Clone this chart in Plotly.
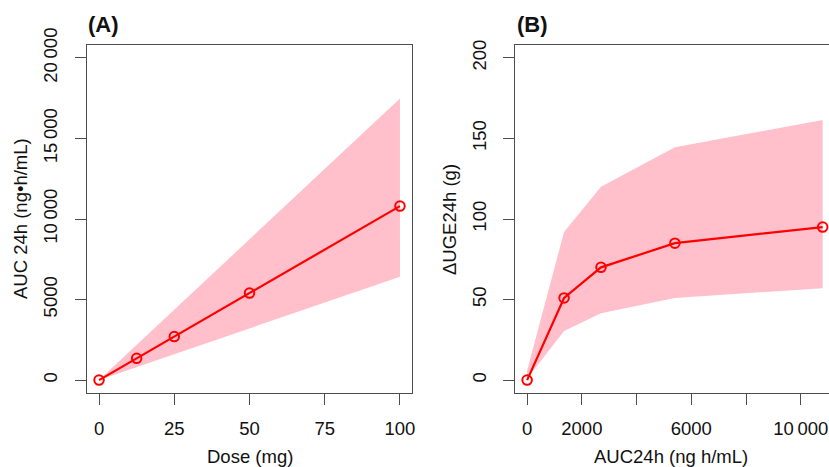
import plotly.graph_objects as go

W, H = 829, 467

# ---- data ----
dose_mg = [0, 12.5, 25, 50, 100]
auc_median = [0, 1350, 2700, 5400, 10800]
auc_upper = [0, 2180, 4370, 8740, 17480]
auc_lower = [0, 800, 1600, 3210, 6420]

auc_x = [0, 1350, 2700, 5400, 10800]
uge_median = [0, 51, 70, 85, 95]
uge_upper = [6, 92, 120, 144.5, 161.5]
uge_lower = [1, 30.5, 41.5, 51, 57]

yA_tickvals = [0, 5000, 10000, 15000, 20000]
yA_ticktext = ["0", "5000", "10\u2009000", "15\u2009000", "20\u2009000"]
xA_tickvals = [0, 25, 50, 75, 100]
xA_ticktext = ["0", "25", "50", "75", "100"]
yB_tickvals = [0, 50, 100, 150, 200]
yB_ticktext = ["0", "50", "100", "150", "200"]
xB_tickvals = [0, 2000, 4000, 6000, 8000, 10000]
xB_ticktext = ["0", "2000", "", "6000", "", "10\u2009000"]

RED = "#FF0000"
PINK = "#FFC0CB"
BOX = "#4d4d4d"
FONT = "Liberation Sans, Arial, sans-serif"
FS = 18.5


def px(x):
    return x / W


def py(y):
    return (H - y) / H


fig = go.Figure()

# Panel A band
fig.add_trace(go.Scatter(
    x=dose_mg + dose_mg[::-1], y=auc_upper + auc_lower[::-1],
    fill="toself", fillcolor=PINK, line=dict(width=0), mode="lines",
    hoverinfo="skip", showlegend=False, xaxis="x", yaxis="y"))
fig.add_trace(go.Scatter(
    x=dose_mg, y=auc_median, mode="lines+markers",
    line=dict(color=RED, width=2.2),
    marker=dict(symbol="circle-open", size=9.5, color=RED, line=dict(width=2, color=RED)),
    showlegend=False, xaxis="x", yaxis="y"))

# Panel B band
fig.add_trace(go.Scatter(
    x=auc_x + auc_x[::-1], y=uge_upper + uge_lower[::-1],
    fill="toself", fillcolor=PINK, line=dict(width=0), mode="lines",
    hoverinfo="skip", showlegend=False, xaxis="x2", yaxis="y2"))
fig.add_trace(go.Scatter(
    x=auc_x, y=uge_median, mode="lines+markers",
    line=dict(color=RED, width=2.2),
    marker=dict(symbol="circle-open", size=9.5, color=RED, line=dict(width=2, color=RED)),
    showlegend=False, xaxis="x2", yaxis="y2"))

axis_common = dict(
    showgrid=False, zeroline=False, showline=True, linecolor=BOX, linewidth=1.3,
    ticks="outside", ticklen=11, tickwidth=1.3, tickcolor=BOX,
    tickfont=dict(family=FONT, size=FS, color="#111"),
    tickmode="array", automargin=False,
)

yd = [py(393), py(45)]
fig.update_layout(
    width=W, height=H,
    margin=dict(l=0, r=0, t=0, b=0, pad=0, autoexpand=False),
    paper_bgcolor="white", plot_bgcolor="white",
    font=dict(family=FONT, size=FS, color="#111"),
    showlegend=False,
    xaxis=dict(domain=[px(87), px(412)], range=[-4, 104], anchor="y",
               tickvals=xA_tickvals, ticktext=xA_ticktext, mirror=True,
               ticklabelstandoff=8, **axis_common),
    yaxis=dict(domain=yd, range=[-800, 20800], anchor="x",
               tickvals=yA_tickvals, ticktext=yA_ticktext, mirror=True,
               tickangle=-90, ticklabelstandoff=10, **axis_common),
    xaxis2=dict(domain=[px(515.3), 1.0], range=[-432, 11031], anchor="y2",
                tickvals=xB_tickvals, ticktext=xB_ticktext, mirror=True,
                ticklabelstandoff=8, **axis_common),
    yaxis2=dict(domain=yd, range=[-8, 208], anchor="x2",
                tickvals=yB_tickvals, ticktext=yB_ticktext, mirror=False,
                tickangle=-90, ticklabelstandoff=10, **axis_common),
)

ann = [
    dict(text="<b>(A)</b>", x=px(86), y=py(25), xanchor="left", yanchor="middle",
         font=dict(size=22, family=FONT, color="#111")),
    dict(text="<b>(B)</b>", x=px(514.5), y=py(25), xanchor="left", yanchor="middle",
         font=dict(size=22, family=FONT, color="#111")),
    dict(text="Dose (mg)", x=px(249.5), y=py(456), xanchor="center", yanchor="middle"),
    dict(text="AUC24h (ng h/mL)", x=px(671), y=py(456), xanchor="center", yanchor="middle"),
    dict(text="AUC 24h (ng\u2022h/mL)", x=px(20), y=py(219), xanchor="center",
         yanchor="middle", textangle=-90),
    dict(text="\u0394UGE24h (g)", x=px(449), y=py(219), xanchor="center",
         yanchor="middle", textangle=-90),
]
for a in ann:
    a.setdefault("font", dict(size=FS, family=FONT, color="#111"))
    fig.add_annotation(xref="paper", yref="paper", showarrow=False, **a)

fig.write_html(
    "out.html",
    config={"displayModeBar": False},
    post_script="document.body.style.margin='0px';document.body.style.overflow='hidden';",
)
